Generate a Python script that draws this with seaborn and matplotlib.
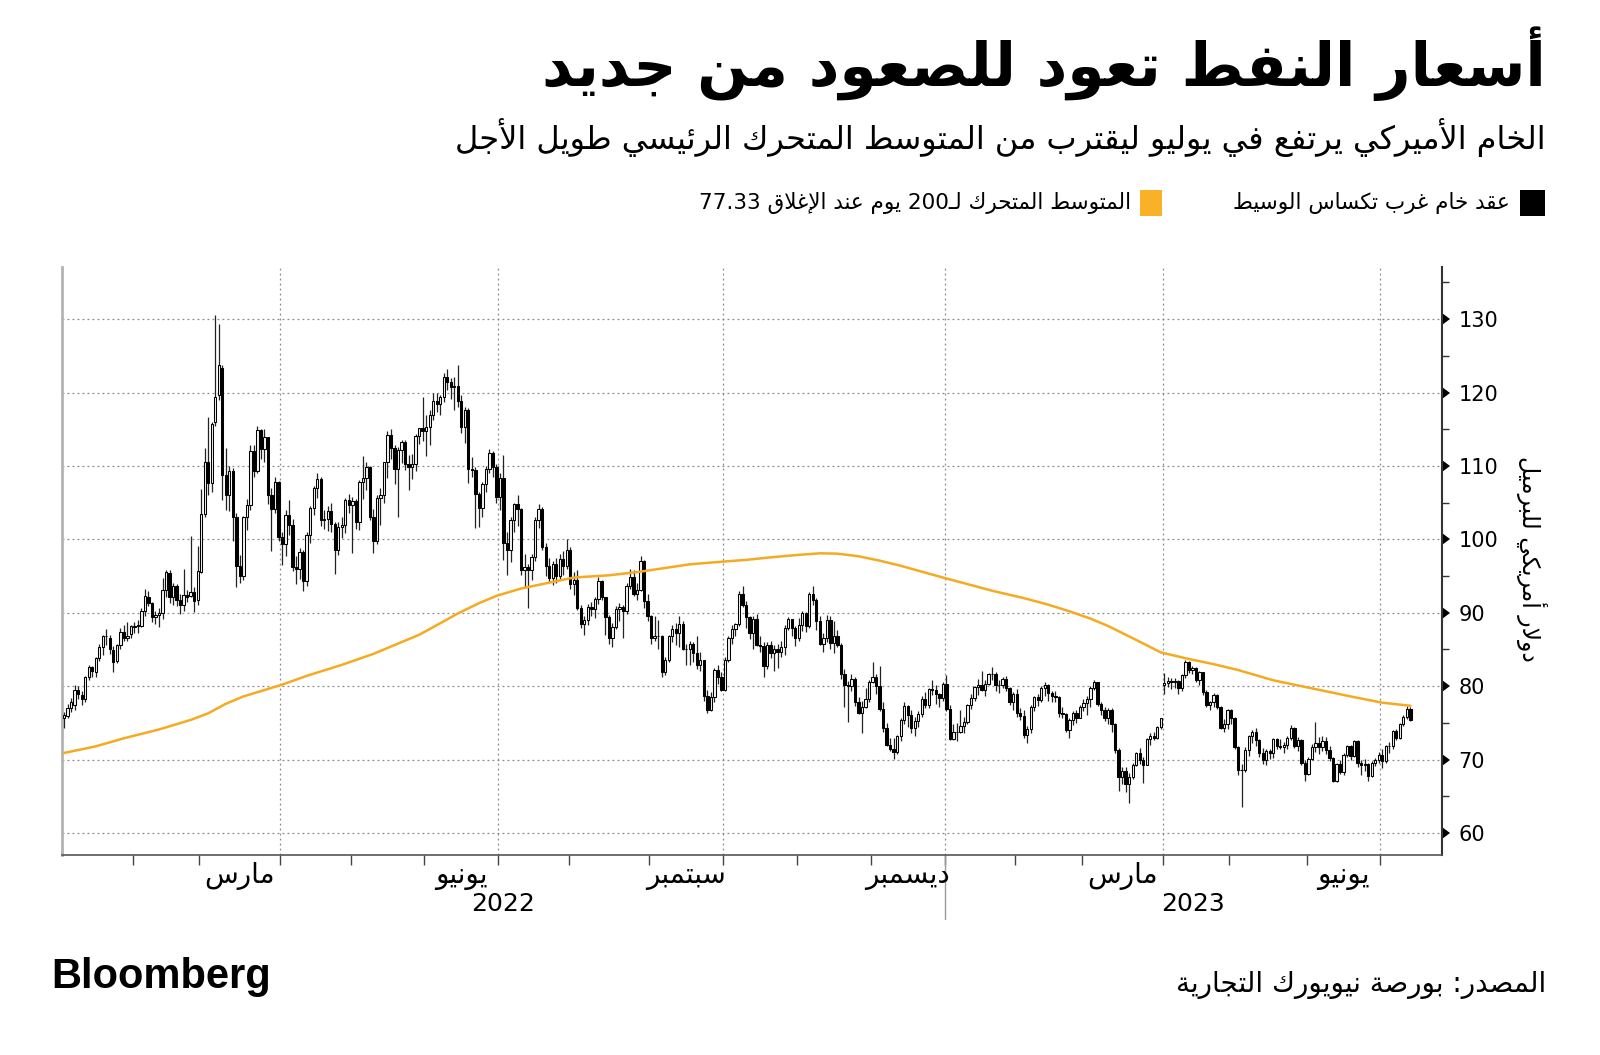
import re
import numpy as np
import pandas as pd
import matplotlib
matplotlib.use("Agg")
import matplotlib.pyplot as plt
import matplotlib.transforms as mtransforms
from matplotlib.patches import Rectangle
import seaborn as sns

# daily WTI candles, one small list per month: (open, high, low, close)
jan22 = [(75.7, 76.5, 74.3, 76.1), (76.0, 77.6, 75.7, 77.0), (77.0, 78.4, 76.5, 77.9), (77.5, 80.2, 76.8, 79.5),
         (79.5, 80.0, 78.3, 78.9), (78.8, 79.3, 77.5, 78.2), (78.2, 81.4, 77.9, 81.2), (81.2, 82.9, 80.8, 82.6),
         (82.6, 82.8, 81.2, 82.1), (81.9, 84.0, 81.3, 83.8), (83.9, 85.7, 83.4, 85.4), (85.3, 87.0, 84.2, 86.9),
         (86.9, 87.8, 85.6, 86.9), (86.6, 87.0, 84.4, 85.1), (84.9, 85.5, 81.9, 83.3), (83.4, 85.8, 83.2, 85.6),
         (85.6, 87.9, 85.0, 87.4), (87.4, 88.3, 86.1, 86.6), (86.6, 88.8, 86.2, 86.8), (87.1, 88.4, 86.6, 88.2)]
feb22 = [(88.1, 88.8, 87.3, 88.2), (88.2, 89.0, 87.2, 88.3), (88.2, 90.6, 88.0, 90.3), (90.3, 93.2, 89.5, 92.3),
         (92.1, 93.0, 90.9, 91.3), (91.3, 91.5, 88.8, 89.4), (89.4, 90.3, 88.5, 89.7), (89.7, 90.7, 88.1, 89.9),
         (89.9, 94.7, 89.2, 93.1), (93.1, 95.8, 92.1, 95.5), (95.4, 95.8, 91.3, 92.1), (92.1, 94.0, 91.0, 93.7),
         (93.6, 93.9, 90.9, 91.8), (91.8, 92.5, 89.8, 91.1), (91.1, 96.0, 90.3, 92.4), (92.4, 93.1, 91.5, 92.1),
         (92.3, 100.5, 92.1, 92.8), (92.8, 93.5, 90.1, 91.6), (91.8, 99.1, 91.0, 95.7)]
mar22 = [(95.6, 106.8, 95.4, 103.4), (103.4, 112.5, 103.0, 110.6), (110.6, 116.6, 106.0, 107.7), (107.7, 116.0, 106.5, 115.7),
         (116.0, 130.5, 115.5, 119.4), (119.6, 129.4, 119.0, 123.7), (123.4, 123.7, 105.3, 108.7), (108.7, 112.5, 104.0, 106.0),
         (106.0, 110.0, 103.8, 109.3), (109.3, 109.7, 99.8, 103.0), (103.0, 103.6, 93.5, 96.4), (96.4, 97.8, 94.0, 95.0),
         (95.0, 103.2, 94.5, 103.0), (103.0, 105.5, 101.3, 104.7), (104.7, 112.9, 104.0, 112.1), (112.1, 112.8, 108.5, 109.3),
         (109.3, 115.4, 109.0, 114.9), (114.9, 115.0, 111.0, 112.3), (112.3, 115.0, 110.6, 113.9), (113.9, 114.0, 104.8, 106.0),
         (106.0, 107.0, 98.4, 104.2), (104.2, 108.5, 103.6, 107.8), (107.8, 108.0, 99.8, 100.3)]
apr22 = [(100.3, 101.0, 96.5, 99.3), (99.3, 104.0, 97.7, 103.3), (103.3, 105.3, 100.6, 102.0), (102.0, 102.8, 95.7, 96.2),
         (96.2, 97.7, 93.9, 96.0), (96.0, 98.8, 94.6, 98.3), (98.3, 98.5, 92.9, 94.3), (94.3, 101.0, 93.7, 100.6),
         (100.6, 104.6, 99.5, 104.3), (104.3, 107.3, 103.3, 107.0), (107.0, 109.0, 105.7, 108.2), (108.2, 108.5, 101.8, 102.6),
         (102.6, 104.0, 101.4, 102.8), (102.8, 104.5, 101.2, 103.8), (103.8, 105.0, 101.0, 102.1), (102.1, 102.3, 95.3, 98.5),
         (98.5, 102.3, 97.9, 101.7), (101.7, 103.0, 100.2, 102.0), (102.0, 105.7, 100.9, 105.4), (105.4, 106.2, 103.6, 104.7)]
may22 = [(104.7, 105.8, 98.2, 105.2), (105.2, 105.5, 101.4, 102.4), (102.4, 108.1, 101.3, 107.8), (107.8, 111.4, 105.5, 108.3),
         (108.3, 110.5, 106.7, 109.8), (109.8, 110.0, 102.6, 103.1), (103.1, 104.1, 98.2, 99.8), (99.8, 106.0, 99.4, 105.7),
         (105.7, 107.0, 101.9, 106.1), (106.1, 110.6, 105.0, 110.5), (110.5, 114.8, 108.3, 114.2), (114.2, 115.0, 111.0, 112.4),
         (112.4, 112.9, 107.5, 109.6), (109.6, 112.6, 103.0, 112.2), (112.2, 113.6, 110.4, 113.2), (113.2, 113.5, 109.4, 110.3),
         (110.3, 111.5, 106.7, 109.8), (109.8, 111.6, 108.2, 110.3), (110.3, 114.4, 109.3, 114.1), (114.1, 115.2, 113.0, 115.1),
         (115.1, 119.4, 113.4, 114.7)]
jun22 = [(114.7, 117.0, 111.3, 115.3), (115.3, 117.6, 112.8, 116.9), (116.9, 120.0, 116.2, 118.9), (118.9, 120.0, 117.3, 118.5),
         (118.5, 119.7, 117.0, 119.4), (119.4, 122.6, 118.7, 122.1), (122.1, 123.2, 120.3, 121.5), (121.5, 122.0, 119.1, 120.7),
         (120.7, 122.1, 117.6, 120.9), (120.9, 123.7, 118.0, 118.9), (118.9, 119.6, 114.5, 115.3), (115.3, 118.0, 113.1, 117.6),
         (117.6, 117.9, 107.7, 109.6), (109.6, 111.2, 108.5, 109.5), (109.5, 109.9, 101.5, 106.2), (106.2, 106.5, 101.7, 104.3),
         (104.3, 107.8, 103.0, 107.6), (107.6, 110.0, 106.4, 109.6), (109.6, 112.3, 109.0, 111.8), (111.8, 112.0, 108.5, 109.8),
         (109.8, 110.3, 105.0, 105.8)]
jul22 = [(105.8, 109.0, 104.0, 108.4), (108.4, 111.5, 97.2, 99.5), (99.5, 101.0, 95.1, 98.5), (98.5, 103.0, 96.9, 102.7),
         (102.7, 105.0, 101.0, 104.8), (104.8, 106.0, 101.8, 104.1), (104.1, 104.3, 95.2, 95.8), (95.8, 98.0, 93.4, 96.3),
         (96.3, 96.6, 90.6, 95.8), (95.8, 98.0, 94.5, 97.6), (97.6, 103.0, 97.0, 102.6), (102.6, 104.8, 101.5, 104.2),
         (104.2, 104.4, 98.5, 98.9), (98.9, 99.5, 95.0, 96.4), (96.4, 97.5, 94.2, 94.7), (94.7, 97.0, 93.8, 96.7),
         (96.7, 97.5, 94.1, 95.0), (95.0, 98.0, 94.5, 97.3), (97.3, 98.4, 95.1, 96.4), (96.4, 100.0, 96.0, 98.6)]
aug22 = [(98.6, 98.9, 93.3, 93.9), (93.9, 95.6, 92.4, 94.4), (94.4, 95.8, 90.4, 90.7), (90.7, 91.1, 87.9, 88.5),
         (88.5, 89.6, 87.0, 89.0), (89.0, 91.2, 88.4, 90.8), (90.8, 91.5, 89.5, 90.5), (90.5, 92.2, 89.3, 91.9),
         (91.9, 94.9, 91.2, 94.3), (94.3, 94.5, 91.7, 92.1), (92.1, 92.1, 87.0, 89.4), (89.4, 89.7, 85.7, 86.5),
         (86.5, 88.6, 85.4, 88.1), (88.1, 90.9, 87.8, 90.5), (90.5, 91.3, 88.9, 90.8), (90.8, 91.0, 86.5, 90.2),
         (90.2, 94.0, 89.8, 93.7), (93.7, 95.9, 93.2, 94.9), (94.9, 95.8, 92.3, 92.5), (92.5, 94.0, 91.8, 93.1),
         (93.1, 97.7, 92.9, 97.0), (97.0, 97.2, 90.6, 91.6), (91.6, 92.5, 88.9, 89.6)]
sep22 = [(89.6, 89.7, 85.7, 86.6), (86.6, 89.5, 86.2, 86.9), (86.9, 89.0, 85.0, 86.9), (86.9, 87.0, 81.2, 81.9),
         (81.9, 84.0, 81.5, 83.5), (83.5, 87.0, 83.3, 86.8), (86.8, 88.4, 86.0, 87.8), (87.8, 88.6, 85.6, 87.3),
         (87.3, 89.5, 85.4, 88.5), (88.5, 88.9, 84.9, 85.1), (85.1, 85.7, 82.9, 85.1), (85.1, 86.2, 82.9, 85.7),
         (85.7, 86.0, 83.3, 84.5), (84.5, 86.9, 82.4, 82.9), (82.9, 84.6, 82.0, 83.5), (83.5, 83.6, 78.0, 78.7),
         (78.7, 79.5, 76.3, 76.7), (76.7, 79.2, 76.6, 78.5), (78.5, 82.5, 77.8, 82.2), (82.2, 82.9, 80.3, 81.2),
         (81.2, 81.9, 79.3, 79.5)]
oct22 = [(79.5, 84.0, 79.4, 83.6), (83.6, 86.8, 83.3, 86.5), (86.5, 88.4, 85.8, 87.8), (87.8, 88.6, 86.9, 88.5),
         (88.5, 93.0, 88.2, 92.6), (92.6, 93.6, 90.8, 91.1), (91.1, 91.6, 87.9, 89.4), (89.4, 89.6, 86.4, 87.3),
         (87.3, 89.6, 85.0, 89.1), (89.1, 89.8, 85.5, 85.6), (85.6, 86.9, 84.7, 85.5), (85.5, 86.0, 81.3, 82.8),
         (82.8, 86.0, 82.3, 85.6), (85.6, 86.2, 83.9, 84.5), (84.5, 85.6, 82.1, 85.1), (85.1, 85.8, 82.5, 84.6),
         (84.6, 86.1, 84.0, 85.3), (85.3, 88.4, 84.2, 87.9), (87.9, 89.4, 87.6, 89.1), (89.1, 89.1, 86.9, 87.9),
         (87.9, 88.2, 85.5, 86.5)]
nov22 = [(86.5, 89.3, 86.1, 88.4), (88.4, 90.3, 87.5, 90.0), (90.0, 90.1, 87.4, 88.2), (88.2, 92.8, 87.9, 92.6),
         (92.6, 93.7, 91.0, 91.8), (91.8, 92.0, 87.7, 88.9), (88.9, 89.5, 85.6, 85.8), (85.8, 87.2, 84.6, 86.5),
         (86.5, 89.7, 86.0, 89.0), (89.0, 89.6, 85.1, 85.9), (85.9, 88.9, 84.5, 86.9), (86.9, 87.6, 85.3, 85.6),
         (85.6, 85.9, 81.0, 81.6), (81.6, 82.4, 77.2, 80.1), (80.1, 80.7, 75.1, 80.0), (80.0, 81.6, 79.3, 81.0),
         (81.0, 81.2, 77.3, 77.9), (77.9, 78.5, 76.2, 76.3), (76.3, 78.0, 73.6, 77.2), (77.2, 79.7, 77.0, 78.2),
         (78.2, 80.9, 77.9, 80.6)]
dec22 = [(80.6, 83.3, 80.4, 81.2), (81.2, 81.6, 79.0, 80.0), (80.0, 82.7, 76.6, 76.9), (76.9, 77.8, 73.8, 74.3),
         (74.3, 75.0, 71.8, 72.0), (72.0, 73.0, 71.2, 71.5), (71.5, 73.0, 70.1, 71.0), (71.0, 73.4, 70.8, 73.2),
         (73.2, 75.7, 72.5, 75.4), (75.4, 77.9, 74.9, 77.3), (77.3, 77.5, 74.5, 76.1), (76.1, 76.8, 73.6, 74.3),
         (74.3, 75.8, 73.2, 75.2), (75.2, 76.6, 74.5, 76.2), (76.2, 78.6, 75.8, 78.3), (78.3, 79.2, 77.0, 77.5),
         (77.5, 79.8, 77.0, 79.6), (79.6, 80.9, 78.8, 79.5), (79.5, 80.2, 77.6, 79.0), (79.0, 79.1, 77.2, 78.4),
         (78.4, 80.5, 78.0, 80.3)]
jan23 = [(80.3, 81.5, 76.6, 76.9), (76.9, 77.4, 72.7, 72.8), (72.8, 74.9, 72.6, 73.7), (73.7, 75.0, 72.5, 73.8),
         (73.8, 76.7, 73.6, 74.6), (74.6, 75.8, 73.6, 75.1), (75.1, 77.6, 74.8, 77.4), (77.4, 78.9, 76.9, 78.4),
         (78.4, 80.0, 78.0, 79.9), (79.9, 81.0, 78.8, 80.2), (80.2, 82.0, 79.3, 79.5), (79.5, 80.8, 78.7, 80.3),
         (80.3, 81.8, 80.1, 81.6), (81.6, 82.6, 80.8, 81.6), (81.6, 81.9, 79.4, 80.1), (80.1, 80.9, 79.1, 80.2),
         (80.2, 81.2, 79.7, 81.0), (81.0, 81.4, 79.3, 79.7), (79.7, 79.9, 77.5, 77.9), (77.9, 79.2, 76.8, 78.9)]
feb23 = [(78.9, 79.6, 75.8, 76.4), (76.4, 77.0, 75.4, 75.9), (75.9, 76.7, 73.0, 73.4), (73.4, 74.6, 72.3, 74.1),
         (74.1, 77.4, 73.6, 77.1), (77.1, 78.7, 76.6, 78.5), (78.5, 78.9, 77.3, 78.1), (78.1, 80.0, 77.9, 79.7),
         (79.7, 80.6, 78.6, 80.1), (80.1, 80.3, 78.0, 79.1), (79.1, 79.4, 77.8, 78.6), (78.6, 79.4, 77.9, 78.5),
         (78.5, 78.6, 75.8, 76.3), (76.3, 77.2, 75.7, 76.2), (76.2, 76.3, 73.8, 74.0), (74.0, 75.6, 73.0, 75.4),
         (75.4, 76.6, 74.7, 76.3), (76.3, 76.7, 75.0, 75.7), (75.7, 77.4, 75.6, 77.1)]
mar23 = [(77.1, 78.3, 76.6, 77.7), (77.7, 78.6, 76.1, 78.2), (78.2, 80.0, 77.2, 79.7), (79.7, 80.9, 79.5, 80.5),
         (80.5, 80.6, 77.3, 77.6), (77.6, 77.8, 76.1, 76.7), (76.7, 77.2, 75.3, 75.7), (75.7, 77.0, 74.9, 76.7),
         (76.7, 77.0, 73.8, 74.8), (74.8, 75.0, 70.9, 71.3), (71.3, 71.6, 65.7, 67.6), (67.6, 69.0, 66.7, 68.4),
         (68.4, 69.0, 65.6, 66.7), (66.7, 68.2, 64.1, 67.6), (67.6, 69.6, 67.4, 69.3), (69.3, 71.0, 69.1, 70.9),
         (70.9, 71.6, 69.4, 70.0), (70.0, 70.4, 66.8, 69.3), (69.3, 72.9, 69.2, 72.8), (72.8, 73.6, 72.0, 73.2),
         (73.2, 73.7, 72.6, 73.0), (73.0, 74.6, 72.8, 74.4), (74.4, 75.7, 74.1, 75.7)]
apr23 = [(80.1, 81.8, 79.0, 80.4), (80.4, 81.2, 79.9, 80.7), (80.7, 81.1, 79.6, 80.6), (80.6, 81.1, 79.7, 80.7),
         (80.7, 80.8, 78.9, 79.7), (79.7, 81.6, 79.3, 81.5), (81.5, 83.5, 81.1, 83.3), (83.3, 83.4, 81.8, 82.2),
         (82.2, 82.8, 81.6, 82.5), (82.5, 82.6, 80.5, 80.8), (80.8, 82.1, 80.2, 81.9), (81.9, 81.9, 78.8, 79.2),
         (79.2, 79.5, 77.1, 77.4), (77.4, 78.0, 76.8, 77.9), (77.9, 79.1, 77.2, 78.8), (78.8, 78.9, 76.9, 77.1),
         (77.1, 77.3, 74.1, 74.3), (74.3, 75.5, 73.8, 74.8), (74.8, 76.9, 74.2, 76.8)]
may23 = [(76.8, 76.9, 74.8, 75.7), (75.7, 75.8, 71.4, 71.7), (71.7, 71.9, 67.9, 68.6), (68.6, 69.4, 63.6, 68.6),
         (68.6, 71.7, 68.3, 71.3), (71.3, 73.4, 70.5, 73.2), (73.2, 74.0, 72.3, 73.7), (73.7, 74.3, 71.9, 72.6),
         (72.6, 72.8, 70.3, 70.9), (70.9, 71.6, 69.4, 70.0), (70.0, 71.4, 69.2, 71.1), (71.1, 71.4, 70.1, 70.9),
         (70.9, 73.0, 70.2, 72.8), (72.8, 72.9, 71.4, 71.9), (71.9, 72.8, 71.4, 71.7), (71.7, 72.4, 70.9, 72.0),
         (72.0, 73.2, 71.5, 72.9), (72.9, 74.7, 72.7, 74.3), (74.3, 74.4, 71.6, 71.8), (71.8, 73.1, 71.1, 72.7),
         (72.7, 72.8, 69.2, 69.5), (69.5, 70.0, 67.1, 68.1)]
jun23 = [(68.1, 70.3, 67.9, 70.1), (70.1, 72.1, 70.0, 71.7), (71.7, 75.1, 71.0, 72.2), (72.2, 73.1, 70.8, 71.7),
         (71.7, 73.2, 71.1, 72.5), (72.5, 73.1, 70.7, 71.3), (71.3, 71.9, 69.8, 70.2), (70.2, 70.3, 66.9, 67.1),
         (67.1, 69.6, 67.0, 69.4), (69.4, 70.0, 68.0, 68.3), (68.3, 70.9, 67.9, 70.6), (70.6, 72.0, 70.3, 71.8),
         (71.8, 72.0, 69.9, 70.5), (70.5, 72.7, 70.4, 72.5), (72.5, 72.6, 69.0, 69.5), (69.5, 70.0, 67.9, 69.2),
         (69.2, 70.1, 68.5, 69.4), (69.4, 69.5, 67.1, 67.7), (67.7, 69.8, 67.6, 69.6), (69.6, 70.2, 69.1, 69.9),
         (69.9, 71.0, 69.5, 70.6)]
jul23 = [(70.6, 71.5, 68.9, 69.8), (69.8, 72.0, 69.5, 71.8), (71.8, 72.4, 70.9, 71.8), (71.8, 74.0, 71.4, 73.9),
         (73.9, 74.1, 72.6, 73.0), (73.0, 75.0, 72.8, 74.8), (74.8, 76.1, 74.6, 75.8), (75.8, 77.3, 75.5, 76.9),
         (76.9, 77.1, 75.2, 75.4)]

exchange_holidays = ["2022-01-17", "2022-02-21", "2022-04-15", "2022-05-30", "2022-06-20", "2022-07-04",
                     "2022-09-05", "2022-11-24", "2022-12-26", "2023-01-02", "2023-01-16", "2023-02-20",
                     "2023-04-07", "2023-05-29", "2023-06-19", "2023-07-04"]

# 200-day moving average, read at trading-day positions
ma_day = [0, 9, 17, 27, 36, 41, 46, 51, 62, 69, 79, 88, 93, 101, 106, 112, 118, 123, 130, 136, 145,
          155, 164, 171, 178, 187, 194, 200, 208, 215, 220, 226, 232, 238, 244, 250, 257, 264, 273,
          280, 286, 292, 297, 305, 312, 320, 327, 334, 344, 351, 358, 366, 375, 383]
ma_value = [70.9, 71.8, 72.9, 74.1, 75.4, 76.3, 77.6, 78.6, 80.2, 81.4, 82.9, 84.4, 85.4, 87.0, 88.3,
            89.9, 91.3, 92.3, 93.3, 93.9, 94.8, 95.1, 95.6, 96.1, 96.6, 96.95, 97.2, 97.5, 97.85, 98.1,
            98.05, 97.7, 97.1, 96.4, 95.6, 94.8, 93.9, 93.0, 92.0, 91.1, 90.2, 89.2, 88.2, 86.3, 84.6,
            83.7, 83.0, 82.2, 80.8, 80.1, 79.4, 78.6, 77.75, 77.33]

y_ticks = [60, 70, 80, 90, 100, 110, 120, 130]
month_labels = {3: "مارس", 6: "يونيو", 9: "سبتمبر", 12: "ديسمبر"}

title = "أسعار النفط تعود للصعود من جديد"
subtitle = "الخام الأميركي يرتفع في يوليو ليقترب من المتوسط المتحرك الرئيسي طويل الأجل"
legend_wti = "عقد خام غرب تكساس الوسيط"
legend_ma = "المتوسط المتحرك لـ200 يوم عند الإغلاق 77.33"
y_label = "دولار أمريكي للبرميل"
source = "المصدر: بورصة نيويورك التجارية"

# --- minimal Arabic shaping (matplotlib has no text shaping) ---
FORMS = {
    "\u0621": ("\ufe80",), "\u0622": ("\ufe81", "\ufe82"), "\u0623": ("\ufe83", "\ufe84"),
    "\u0624": ("\ufe85", "\ufe86"), "\u0625": ("\ufe87", "\ufe88"),
    "\u0626": ("\ufe89", "\ufe8a", "\ufe8b", "\ufe8c"), "\u0627": ("\ufe8d", "\ufe8e"),
    "\u0628": ("\ufe8f", "\ufe90", "\ufe91", "\ufe92"), "\u0629": ("\ufe93", "\ufe94"),
    "\u062a": ("\ufe95", "\ufe96", "\ufe97", "\ufe98"), "\u062b": ("\ufe99", "\ufe9a", "\ufe9b", "\ufe9c"),
    "\u062c": ("\ufe9d", "\ufe9e", "\ufe9f", "\ufea0"), "\u062d": ("\ufea1", "\ufea2", "\ufea3", "\ufea4"),
    "\u062e": ("\ufea5", "\ufea6", "\ufea7", "\ufea8"), "\u062f": ("\ufea9", "\ufeaa"),
    "\u0630": ("\ufeab", "\ufeac"), "\u0631": ("\ufead", "\ufeae"), "\u0632": ("\ufeaf", "\ufeb0"),
    "\u0633": ("\ufeb1", "\ufeb2", "\ufeb3", "\ufeb4"), "\u0634": ("\ufeb5", "\ufeb6", "\ufeb7", "\ufeb8"),
    "\u0635": ("\ufeb9", "\ufeba", "\ufebb", "\ufebc"), "\u0636": ("\ufebd", "\ufebe", "\ufebf", "\ufec0"),
    "\u0637": ("\ufec1", "\ufec2", "\ufec3", "\ufec4"), "\u0638": ("\ufec5", "\ufec6", "\ufec7", "\ufec8"),
    "\u0639": ("\ufec9", "\ufeca", "\ufecb", "\ufecc"), "\u063a": ("\ufecd", "\ufece", "\ufecf", "\ufed0"),
    "\u0641": ("\ufed1", "\ufed2", "\ufed3", "\ufed4"), "\u0642": ("\ufed5", "\ufed6", "\ufed7", "\ufed8"),
    "\u0643": ("\ufed9", "\ufeda", "\ufedb", "\ufedc"), "\u0644": ("\ufedd", "\ufede", "\ufedf", "\ufee0"),
    "\u0645": ("\ufee1", "\ufee2", "\ufee3", "\ufee4"), "\u0646": ("\ufee5", "\ufee6", "\ufee7", "\ufee8"),
    "\u0647": ("\ufee9", "\ufeea", "\ufeeb", "\ufeec"), "\u0648": ("\ufeed", "\ufeee"),
    "\u0649": ("\ufeef", "\ufef0"), "\u064a": ("\ufef1", "\ufef2", "\ufef3", "\ufef4"),
}
LAM_ALEF = {"\u0622": ("\ufef5", "\ufef6"), "\u0623": ("\ufef7", "\ufef8"),
            "\u0625": ("\ufef9", "\ufefa"), "\u0627": ("\ufefb", "\ufefc")}
TATWEEL = "\u0640"


def ar(text):
    def joins_next(c):
        return (c in FORMS and len(FORMS[c]) == 4) or c == TATWEEL

    out, i, n = [], 0, len(text)
    while i < n:
        c = text[i]
        if c not in FORMS:
            out.append(c)
            i += 1
            continue
        jp = i > 0 and joins_next(text[i - 1])
        if c == "\u0644" and i + 1 < n and text[i + 1] in LAM_ALEF:
            iso, fin = LAM_ALEF[text[i + 1]]
            out.append(fin if jp else iso)
            i += 2
            continue
        f = FORMS[c]
        nxt = text[i + 1] if i + 1 < n else ""
        jn = len(f) == 4 and (nxt in FORMS or nxt == TATWEEL)
        if len(f) == 1:
            g = f[0]
        elif len(f) == 2:
            g = f[1] if jp else f[0]
        else:
            g = f[3] if (jp and jn) else f[1] if jp else f[2] if jn else f[0]
        out.append(g)
        i += 1
    tokens = re.findall(r"[0-9.]+|[^0-9.]+", "".join(out))
    return "".join(t if t[0].isdigit() else t[::-1] for t in reversed(tokens))


# --- table ---
months = [jan22, feb22, mar22, apr22, may22, jun22, jul22, aug22, sep22, oct22, nov22, dec22,
          jan23, feb23, mar23, apr23, may23, jun23, jul23]
rows = [r for m in months for r in m]
dates = pd.bdate_range("2022-01-03", "2023-07-14", freq="C", holidays=exchange_holidays)
df = pd.DataFrame(rows, columns=["open", "high", "low", "close"])
df["date"] = dates[:len(df)]
df["x"] = np.arange(len(df))
up = df["close"] >= df["open"]

sns.set_theme(style="white")
plt.rcParams["font.family"] = ["DejaVu Sans"]
plt.rcParams["text.color"] = "black"
plt.rcParams["xtick.color"] = "black"
plt.rcParams["ytick.color"] = "black"

fig = plt.figure(figsize=(16, 10.55), dpi=100)
ax = fig.add_axes([0.03875, 0.18957, 0.8625, 0.55735])

# wicks + bodies
ax.vlines(df["x"], df["low"], df["high"], color="#222222", lw=0.9, zorder=3)
body_lo = np.minimum(df["open"], df["close"])
body_h = (df["close"] - df["open"]).abs()
ax.bar(df["x"][up], body_h[up], bottom=body_lo[up], width=0.66, color="#f2f2f2",
       edgecolor="black", linewidth=0.75, zorder=4)
ax.bar(df["x"][~up], body_h[~up], bottom=body_lo[~up], width=0.66, color="black",
       edgecolor="black", linewidth=0.75, zorder=4)

ma_df = pd.DataFrame({"x": ma_day, "ma": ma_value})
sns.lineplot(data=ma_df, x="x", y="ma", ax=ax, color="#F5AA22", lw=1.8, zorder=5)

ax.set_xlim(-0.6, 392)
ax.set_ylim(57, 137.1)

# y axis on the right
ax.yaxis.tick_right()
ax.set_yticks(y_ticks)
ax.set_yticks(np.arange(65, 140, 10), minor=True)
ax.tick_params(axis="y", which="major", length=8, width=0, pad=4, labelsize=15, colors="black")
ax.tick_params(axis="y", which="minor", length=5, width=1, color="#333333", right=True, left=False)
for t in ax.yaxis.get_major_ticks():
    t.tick2line.set_marker(9)
    t.tick2line.set_markersize(8)
    t.tick2line.set_markerfacecolor("black")
    t.tick2line.set_markeredgecolor("black")
ax.set_ylabel("")
ax.set_xlabel("")

# month ticks and quarter gridlines
month_start = df.groupby(df["date"].dt.to_period("M"))["x"].agg(["min", "max"])
bounds = month_start["min"].values[1:] - 0.5
quarter = [b for b, p in zip(bounds, month_start.index[1:]) if p.month in (1, 4, 7, 10)]
ax.set_xticks(quarter)
ax.set_xticks(bounds, minor=True)
ax.tick_params(axis="x", which="both", length=7, width=1, color="#444444", bottom=True,
               labelbottom=False)
ax.grid(True, which="major", color="#8a8a8a", lw=0.9, ls=(0, (1.5, 2.5)))

tr = mtransforms.blended_transform_factory(ax.transData, ax.transAxes)
for p, r in month_start.iterrows():
    if p.month in month_labels:
        ax.text((r["min"] + r["max"]) / 2, -0.036, ar(month_labels[p.month]), transform=tr,
                ha="center", va="center", fontsize=20)
year_cut = month_start.loc[pd.Period("2023-01", "M"), "min"] - 0.5
ax.text((-0.6 + year_cut) / 2, -0.083, "2022", transform=tr, ha="center", va="center", fontsize=18)
ax.text((year_cut + 392) / 2, -0.083, "2023", transform=tr, ha="center", va="center", fontsize=18)
ax.plot([year_cut, year_cut], [0, -0.108], transform=tr, color="#9a9a9a", lw=1, clip_on=False)

ax.spines["top"].set_visible(False)
ax.spines["left"].set_color("#b3b3b3")
ax.spines["left"].set_linewidth(2)
ax.spines["bottom"].set_color("#555555")
ax.spines["bottom"].set_linewidth(1.2)
ax.spines["right"].set_color("#333333")
ax.spines["right"].set_linewidth(1.5)

# header
fig.text(0.96625, 0.9393, ar(title), ha="right", va="center", fontsize=43, fontweight="bold")
fig.text(0.96625, 0.870, ar(subtitle), ha="right", va="center", fontsize=23)
fig.add_artist(Rectangle((0.95, 0.7953), 0.01563, 0.0246, transform=fig.transFigure,
                         facecolor="black", edgecolor="none"))
fig.text(0.94375, 0.8076, ar(legend_wti), ha="right", va="center", fontsize=15.5)
fig.add_artist(Rectangle((0.7125, 0.7953), 0.01375, 0.0246, transform=fig.transFigure,
                         facecolor="#F9B128", edgecolor="none"))
fig.text(0.7069, 0.8076, ar(legend_ma), ha="right", va="center", fontsize=15.5)

fig.text(0.957, 0.47, ar(y_label), rotation=270, ha="center", va="center", fontsize=17)

# footer
fig.text(0.0319, 0.0739, "Bloomberg", ha="left", va="center", fontsize=30, fontweight="bold",
         family="Liberation Sans")
fig.text(0.96625, 0.0664, ar(source), ha="right", va="center", fontsize=20)

fig.savefig("out.png", dpi=100, facecolor="white")
